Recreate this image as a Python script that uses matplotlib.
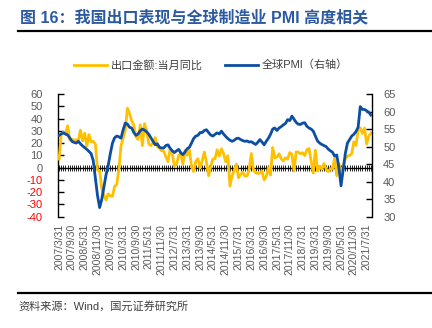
import matplotlib
matplotlib.use("Agg")
import matplotlib.pyplot as plt
from matplotlib.lines import Line2D
import numpy as np

plt.rcParams['font.family'] = ['Liberation Sans', 'Noto Sans CJK SC', 'DejaVu Sans']

# Monthly observations, March-December each year (Jan/Feb not reported)
years = list(range(2007, 2022))
months = [3, 4, 5, 6, 7, 8, 9, 10, 11, 12]
month_end = {3: 31, 4: 30, 5: 31, 6: 30, 7: 31, 8: 31, 9: 30, 10: 31, 11: 30, 12: 31}
dates = []
for y in years:
    for m in months:
        if y == 2021 and m > 9:
            break
        dates.append(f"{y}/{m}/{month_end[m]}")

export_yoy = [
    6.9, 26.8, 28.9, 27.1, 34.1, 22.7, 23.1, 22.3, 22.8, 21.7,      # 2007
    30.6, 21.8, 28.1, 17.6, 26.9, 21.1, 21.5, 19.2, -2.2, -2.8,     # 2008
    -17.1, -22.6, -26.4, -21.4, -23.0, -23.4, -15.2, -13.8, -1.2, 17.7,  # 2009
    24.3, 30.5, 48.5, 43.9, 38.1, 34.4, 25.1, 22.9, 34.9, 17.9,     # 2010
    35.8, 29.9, 19.4, 17.9, 20.4, 24.5, 17.1, 15.9, 13.8, 13.4,     # 2011
    8.9, 4.9, 15.3, 11.3, 1.0, 2.7, 9.9, 11.6, 2.9, 14.1,           # 2012
    10.0, 14.7, 1.0, -3.1, 5.1, 7.2, -0.3, 5.6, 12.7, 4.3,          # 2013
    -6.6, 0.9, 7.0, 7.2, 14.5, 9.4, 15.3, 11.6, 4.7, 9.7,           # 2014
    -15.0, -6.4, -2.5, 2.8, -8.3, -5.5, -3.7, -6.9, -6.8, -1.4,     # 2015
    11.5, -1.8, -4.1, -4.8, -4.4, -2.8, -10.0, -7.3, 0.1, -6.1,     # 2016
    16.4, 8.0, 8.7, 11.3, 7.2, 5.5, 8.1, 6.9, 12.3, 10.9,           # 2017
    -2.7, 12.9, 12.6, 11.3, 12.2, 9.8, 14.5, 15.6, 5.4, -4.4,       # 2018
    14.2, -2.7, 1.1, -1.3, 3.3, -1.0, -3.2, -0.9, -1.1, 7.6,        # 2019
    -6.6, 3.5, -3.3, 0.5, 7.2, 9.5, 9.9, 11.4, 21.1, 18.1,          # 2020
    30.6, 32.3, 27.9, 32.2, 19.3, 25.6, 28.1,                       # 2021
]

global_pmi = [
    53.2, 53.6, 53.9, 53.6, 53.3, 52.5, 51.5, 51.2, 51.0, 51.5,     # 2007
    50.8, 50.2, 49.7, 49.2, 48.6, 48.0, 46.0, 41.0, 36.0, 32.6,     # 2008
    35.0, 38.5, 42.0, 44.6, 48.0, 51.0, 52.5, 53.0, 52.8, 52.4,     # 2009
    54.8, 56.7, 56.4, 55.5, 55.3, 54.0, 53.2, 53.6, 54.5, 55.0,     # 2010
    54.7, 54.2, 53.5, 52.5, 51.5, 50.5, 50.8, 49.8, 49.6, 49.6,     # 2011
    50.3, 50.5, 49.5, 48.8, 48.3, 48.8, 49.2, 48.2, 47.7, 48.5,     # 2012
    49.4, 49.8, 51.0, 52.3, 53.0, 53.2, 54.0, 54.0, 54.6, 54.8,     # 2013
    54.0, 53.3, 53.0, 53.5, 53.9, 53.6, 54.4, 53.6, 52.9, 52.3,     # 2014
    51.8, 51.5, 51.8, 52.3, 52.4, 52.0, 51.7, 51.5, 51.6, 51.3,     # 2015
    51.4, 51.0, 50.6, 51.2, 52.0, 51.3, 50.5, 51.5, 52.4, 53.5,     # 2016
    55.0, 55.3, 54.6, 55.3, 55.7, 56.2, 56.6, 57.7, 57.4, 58.7,     # 2017
    57.8, 56.9, 56.4, 56.3, 56.7, 56.8, 55.8, 55.3, 55.0, 54.4,     # 2018
    53.0, 51.6, 51.0, 50.6, 50.3, 50.0, 49.3, 48.8, 48.4, 47.3,     # 2019
    47.6, 44.0, 38.8, 43.5, 48.0, 51.0, 52.0, 53.0, 53.5, 54.3,     # 2020
    55.5, 61.4, 60.6, 60.6, 60.2, 59.8, 59.0,                       # 2021
]

left_ticks = [60, 50, 40, 30, 20, 10, 0, -10, -20, -30, -40]
right_ticks = [65, 60, 55, 50, 45, 40, 35, 30]

orange = '#FFC000'
blue = '#0B4EA2'
gray = '#595959'

W, H = 432, 328
fig = plt.figure(figsize=(W / 100, H / 100), dpi=100)
ax = fig.add_axes([58 / W, 1 - 216.7 / H, (372 - 58) / W, (216.7 - 94) / H])
ax2 = ax.twinx()

x = np.arange(len(dates))
l1, = ax.plot(x, export_yoy, color=orange, lw=2.0, solid_joinstyle='round', zorder=3)
l2, = ax2.plot(x, global_pmi, color=blue, lw=2.0, solid_joinstyle='round', zorder=3)

ax.set_xlim(-0.5, len(dates) - 0.5)
ax.set_ylim(-40, 60)
ax2.set_ylim(30, 65)

# zero axis line with category tick marks
ax.axhline(0, color='black', lw=1.0, zorder=2)
ax.plot(x, np.zeros(len(x)), ls='none', marker='|', ms=4, mew=0.6, color='black', zorder=2)

for a in (ax, ax2):
    a.spines['top'].set_visible(False)
    a.spines['bottom'].set_visible(False)
    a.patch.set_visible(False)
ax.spines['right'].set_visible(False)
ax2.spines['left'].set_visible(False)
ax.spines['left'].set_linewidth(1.0)
ax2.spines['right'].set_linewidth(1.0)

ax.set_yticks(left_ticks)
ax.set_yticklabels([str(t) for t in left_ticks], fontsize=8)
for t, lab in zip(left_ticks, ax.get_yticklabels()):
    lab.set_color('#FF0000' if t < 0 else gray)
ax.tick_params(axis='y', direction='in', length=4, width=1.0, pad=11)

ax2.set_yticks(right_ticks)
ax2.set_yticklabels([str(t) for t in right_ticks], fontsize=8, color=gray)
ax2.tick_params(axis='y', direction='in', length=4, width=1.0, pad=8)

tick_idx = list(range(0, len(dates), 6))
ax.set_xticks(tick_idx)
ax.set_xticklabels([dates[i] for i in tick_idx], rotation=90, fontsize=7.5, color=gray)
ax.tick_params(axis='x', length=0, pad=5)

# legend
fig.legend([l1, l2], ['出口金额:当月同比', '全球PMI（右轴）'], loc='center',
           bbox_to_anchor=(211 / W, 1 - 65 / H), ncol=2, frameon=False,
           fontsize=8, handlelength=3.0, handletextpad=0.3, columnspacing=2.0,
           labelcolor='#404040')

# title and rules
fig.text(20 / W, 1 - 17 / H, '图 16：我国出口表现与全球制造业 PMI 高度相关',
         fontsize=11.5, fontweight='bold', color='#2B5AA0', va='center', ha='left')
fig.add_artist(Line2D([18 / W, 1.0], [1 - 31 / H, 1 - 31 / H], color='black', lw=1.6))
fig.add_artist(Line2D([18 / W, 1.0], [1 - 293 / H, 1 - 293 / H], color='black', lw=1.6))
fig.text(18 / W, 1 - 306 / H, '资料来源：Wind，国元证券研究所', fontsize=8,
         color='#404040', va='center', ha='left')

fig.savefig('out.png', dpi=100)
